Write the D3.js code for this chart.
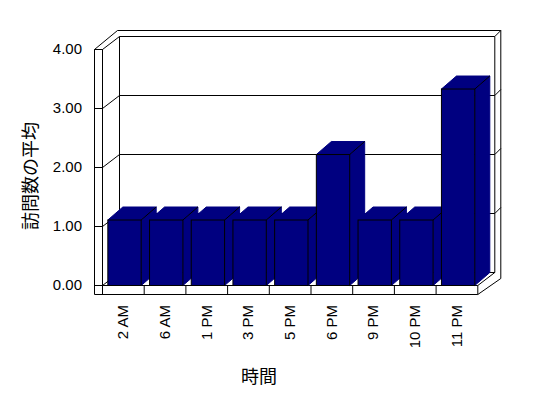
<!DOCTYPE html>
<html>
<head>
<meta charset="utf-8">
<script src="https://cdn.jsdelivr.net/npm/d3@7"></script>
<style>
body { margin: 0; background: #fff; }
svg { display: block; font-family: "Liberation Sans", Arial, "Noto Sans CJK JP", sans-serif; }
</style>
</head>
<body>
<svg width="548" height="398"></svg>
<script>
var categories = ['2 AM', '6 AM', '1 PM', '3 PM', '5 PM', '6 PM', '9 PM', '10 PM', '11 PM'];
var visits = [1.11, 1.11, 1.11, 1.11, 1.11, 2.22, 1.11, 1.11, 3.33];
var yTicks = [0, 1, 2, 3, 4];
var xTitle = '時間';
var yTitle = '訪問数の平均';

function main() {
    var svg = d3.select('svg');
    var navy = '#000080';

    var xScale = d3.scaleBand().domain(categories).range([102, 477.3]).padding(0);
    var yScale = d3.scaleLinear().domain([0, 4]).range([285, 49]);

    var wd = [17, -13]; // depth of the walls
    var bd = [15, -13]; // depth of the bars
    var th = 6;         // wall thickness going back
    var x0 = xScale.range()[0], x1 = xScale.range()[1];
    var y0 = yScale(0), yTop = yScale(4);
    var floorH = 9, leftW = 8;

    function pts(a) { return a.map(function(p) { return p.join(','); }).join(' '); }
    function line(g, a, b) {
        g.append('line').attr('x1', a[0]).attr('y1', a[1]).attr('x2', b[0]).attr('y2', b[1])
         .attr('stroke', '#000').attr('stroke-width', 1);
    }

    var g = svg.append('g').attr('transform', 'translate(0.5,0.5)');

    // back wall face
    g.append('polygon')
     .attr('points', pts([[x0 + wd[0], yTop + wd[1]], [x1 + wd[0], yTop + wd[1]], [x1 + wd[0], y0 + wd[1]], [x0 + wd[0], y0 + wd[1]]]))
     .attr('fill', '#fff').attr('stroke', '#000');

    // gridlines on the back wall, the left wall and the right edge
    yTicks.forEach(function(t) {
        var y = yScale(t);
        if (t > 0 && t < 4) {
            line(g, [x0 + wd[0], y + wd[1]], [x1 + wd[0], y + wd[1]]);
            line(g, [x0, y], [x0 + wd[0], y + wd[1]]);
            line(g, [x1 + wd[0], y + wd[1]], [x1 + wd[0] + th, y + wd[1] - th]);
        }
    });

    // floor top
    g.append('polygon')
     .attr('points', pts([[x0, y0], [x1, y0], [x1 + wd[0], y0 + wd[1]], [x0 + wd[0], y0 + wd[1]]]))
     .attr('fill', '#fff').attr('stroke', '#000');

    // outer shell: left wall, wall thickness, floor slab
    line(g, [x0 - leftW, yTop], [x0, yTop]);
    line(g, [x0, yTop], [x0 + wd[0], yTop + wd[1]]);
    line(g, [x0 - leftW, yTop], [x0 + wd[0] - 2, yTop + wd[1] - th]);
    line(g, [x0 + wd[0] - 2, yTop + wd[1] - th], [x1 + wd[0] + th, yTop + wd[1] - th]);
    line(g, [x1 + wd[0], yTop + wd[1]], [x1 + wd[0] + th, yTop + wd[1] - th]);
    line(g, [x1 + wd[0] + th, yTop + wd[1] - th], [x1 + wd[0] + th, y0 + wd[1] + th]);
    line(g, [x0 - leftW, yTop], [x0 - leftW, y0 + floorH]);
    line(g, [x0, yTop], [x0, y0]);
    line(g, [x0 - leftW, y0 + floorH], [x1, y0 + floorH]);
    line(g, [x1, y0], [x1, y0 + floorH]);
    line(g, [x1, y0 + floorH], [x1 + wd[0] + th, y0 + wd[1] + th]);

    // ticks on the left wall front
    yTicks.forEach(function(t) {
        line(g, [x0 - leftW, yScale(t)], [x0, yScale(t)]);
    });

    // category dividers on the floor front
    categories.forEach(function(c) {
        line(g, [xScale(c), y0], [xScale(c), y0 + floorH]);
    });

    // bars
    var bw = xScale.bandwidth() * 0.8;
    var bOff = xScale.bandwidth() * 0.128;
    var bars = g.selectAll('.bar').data(visits).enter().append('g').attr('class', 'bar');

    bars.append('polygon') // top face
     .attr('points', function(d, i) {
         var x = xScale(categories[i]) + bOff, y = yScale(d);
         return pts([[x, y], [x + bw, y], [x + bw + bd[0], y + bd[1]], [x + bd[0], y + bd[1]]]);
     })
     .attr('fill', navy).attr('stroke', navy);

    bars.append('polygon') // side face
     .attr('points', function(d, i) {
         var x = xScale(categories[i]) + bOff + bw, y = yScale(d);
         return pts([[x, y], [x + bd[0], y + bd[1]], [x + bd[0], y0 + bd[1]], [x, y0]]);
     })
     .attr('fill', navy).attr('stroke', navy);

    bars.append('line') // edge between top and side
     .attr('x1', function(d, i) { return xScale(categories[i]) + bOff + bw; })
     .attr('y1', function(d) { return yScale(d); })
     .attr('x2', function(d, i) { return xScale(categories[i]) + bOff + bw + bd[0]; })
     .attr('y2', function(d) { return yScale(d) + bd[1]; })
     .attr('stroke', '#000');

    bars.append('rect') // front face
     .attr('x', function(d, i) { return xScale(categories[i]) + bOff; })
     .attr('y', function(d) { return yScale(d); })
     .attr('width', bw)
     .attr('height', function(d) { return y0 - yScale(d); })
     .attr('fill', navy).attr('stroke', '#000');

    // y axis labels
    svg.selectAll('.ylab').data(yTicks).enter().append('text')
     .attr('class', 'ylab')
     .attr('x', 82)
     .attr('y', function(d) { return yScale(d); })
     .attr('dy', '0.35em')
     .attr('text-anchor', 'end')
     .style('font-size', '15px')
     .text(function(d) { return d3.format('.2f')(d); });

    // x axis labels, rotated
    svg.selectAll('.xlab').data(categories).enter().append('text')
     .attr('class', 'xlab')
     .attr('transform', function(d) {
         return 'translate(' + (xScale(d) + xScale.bandwidth() / 2) + ',305) rotate(-90)';
     })
     .attr('dy', '0.35em')
     .attr('text-anchor', 'end')
     .style('font-size', '15px')
     .text(function(d) { return d; });

    svg.append('text') // x title
     .attr('x', 259)
     .attr('y', 377)
     .attr('dy', '0.35em')
     .attr('text-anchor', 'middle')
     .style('font-size', '18px')
     .text(xTitle);

    svg.append('text') // y title
     .attr('transform', 'translate(31,176) rotate(-90)')
     .attr('dy', '0.35em')
     .attr('text-anchor', 'middle')
     .style('font-size', '18px')
     .text(yTitle);
}
main();
</script>
</body>
</html>
